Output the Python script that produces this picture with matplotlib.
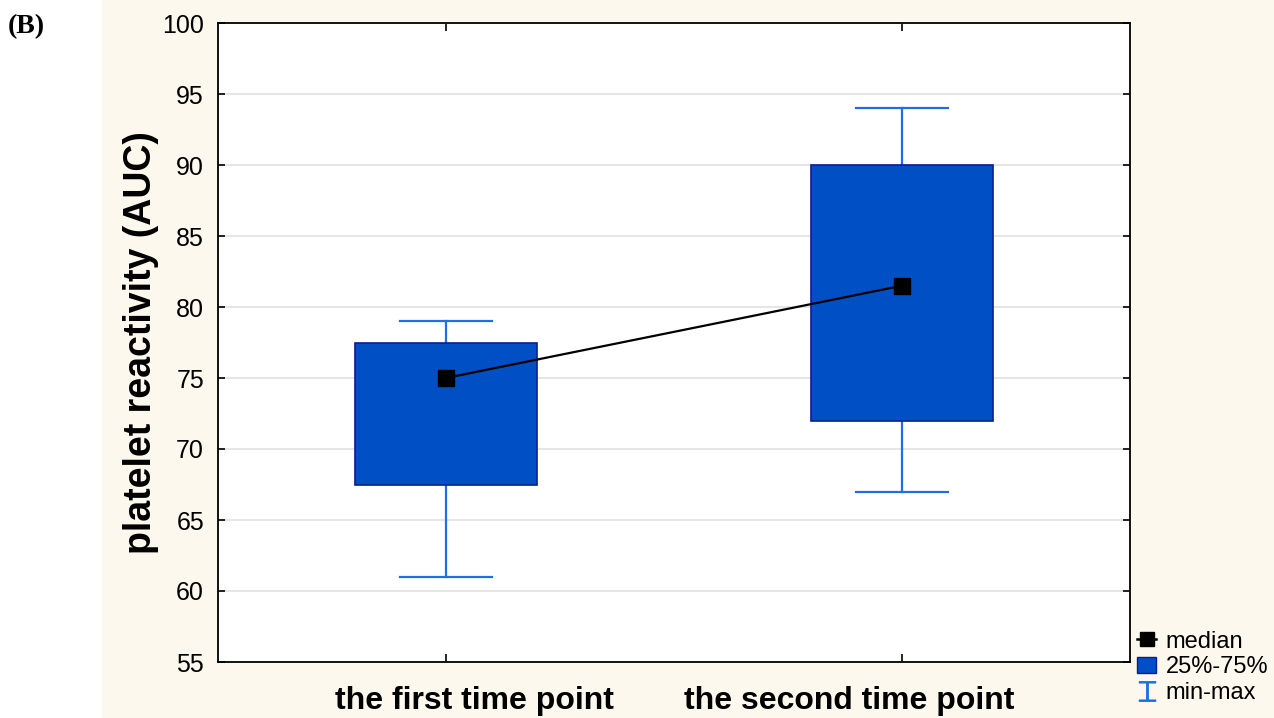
import matplotlib.pyplot as plt
import matplotlib.transforms as mtransforms
from matplotlib.patches import Rectangle
from matplotlib.lines import Line2D

categories = ["the first time point", "the second time point"]
q1 = [67.5, 72.0]
q3 = [77.5, 90.0]
medians = [75.0, 81.5]
mins = [61.0, 67.0]
maxs = [79.0, 94.0]

box_fill = "#004fc4"
box_edge = "#0a1e8c"
whisk = "#1f6fe0"
bg = "#fdf8ed"

plt.rcParams["font.family"] = ["Liberation Sans", "DejaVu Sans"]

fig = plt.figure(figsize=(12.74, 7.18), dpi=100)
fig.patches.append(Rectangle((102 / 1274, 0), 1 - 102 / 1274, 1, transform=fig.transFigure,
                             facecolor=bg, edgecolor="none", zorder=-10))

ax = fig.add_axes([218 / 1274, 1 - 662 / 718, 912 / 1274, 639 / 718])
ax.set_facecolor("white")

x = list(range(len(categories)))
bw = 0.4
cap = 0.2
for i in x:
    ax.plot([i, i], [mins[i], q1[i]], color=whisk, lw=1.6, zorder=2)
    ax.plot([i, i], [q3[i], maxs[i]], color=whisk, lw=1.6, zorder=2)
    ax.plot([i - cap / 2, i + cap / 2], [mins[i], mins[i]], color=whisk, lw=1.6, zorder=2)
    ax.plot([i - cap / 2, i + cap / 2], [maxs[i], maxs[i]], color=whisk, lw=1.6, zorder=2)
    ax.add_patch(Rectangle((i - bw / 2, q1[i]), bw, q3[i] - q1[i], facecolor=box_fill,
                           edgecolor=box_edge, lw=1.2, zorder=3))

ax.plot(x, medians, color="black", lw=1.6, marker="s", markersize=11, zorder=4)

ax.set_xlim(-0.5, 1.5)
ax.set_ylim(55, 100)
ax.set_yticks(range(55, 101, 5))
ax.set_xticks(x)
ax.set_xticklabels(categories, fontsize=23, fontweight="bold")
ax.tick_params(axis="x", direction="in", top=True, length=6, width=1.2, pad=17)
ax.tick_params(axis="y", direction="in", right=True, length=5, width=1.2, labelsize=18, pad=10)
ax.grid(axis="y", color="#e2e2e2", lw=1.2, zorder=0)
ax.set_axisbelow(True)
for s in ax.spines.values():
    s.set_linewidth(1.3)

# the labels sit a bit toward the middle in the original
shifts = [28, -53]
for lab, dx in zip(ax.get_xticklabels(), shifts):
    lab.set_transform(lab.get_transform() + mtransforms.ScaledTranslation(dx / 100, 0, fig.dpi_scale_trans))

ax.set_ylabel("platelet reactivity (AUC)", fontsize=27, fontweight="bold", labelpad=2)

handles = [
    Line2D([0], [0], color="black", marker="s", markersize=10, lw=1.8),
    Rectangle((0, 0), 1, 1, facecolor=box_fill, edgecolor=box_edge),
    Line2D([0], [0], color=whisk, marker="$\u2336$", markersize=14, lw=0),
]
fig.legend(handles, ["median", "25%-75%", "min-max"], loc="lower left",
           bbox_to_anchor=(1123 / 1274, 0.0), frameon=False, fontsize=17,
           handlelength=0.8, handletextpad=0.4, labelspacing=0.15, borderaxespad=0.2)

fig.text(8 / 1274, 1 - 27 / 718, "(B)", fontsize=20, fontweight="bold",
         family=["Liberation Serif", "DejaVu Serif"], va="center")

fig.savefig("out.png", dpi=100)
